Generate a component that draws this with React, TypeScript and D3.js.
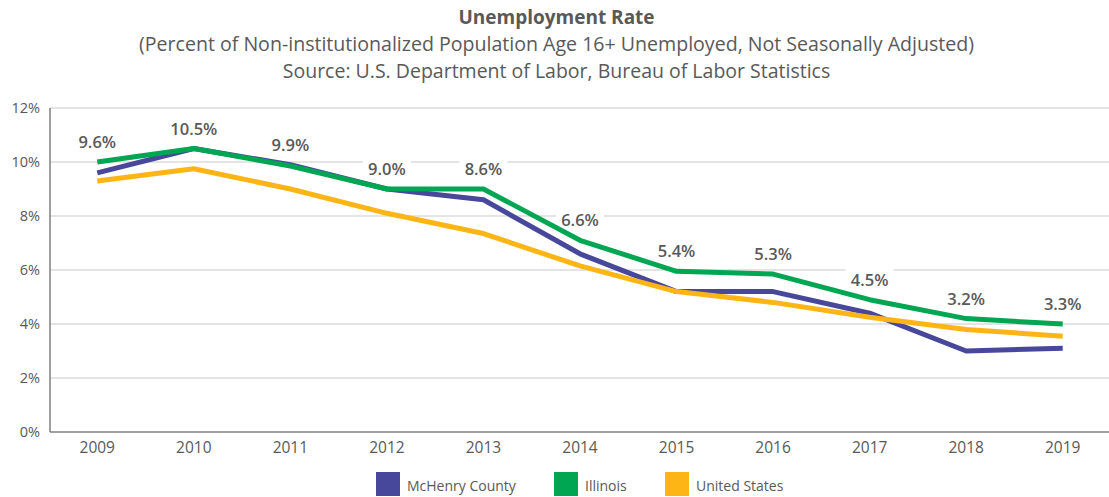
import React from 'react';
import * as d3 from 'd3';

const years = ['2009', '2010', '2011', '2012', '2013', '2014', '2015', '2016', '2017', '2018', '2019'];
const mchenry = [9.6, 10.5, 9.9, 9.0, 8.6, 6.6, 5.2, 5.2, 4.4, 3.0, 3.1];
const illinois = [10.0, 10.5, 9.85, 9.0, 9.0, 7.1, 5.95, 5.85, 4.9, 4.2, 4.0];
const unitedStates = [9.3, 9.75, 9.0, 8.1, 7.35, 6.15, 5.2, 4.8, 4.25, 3.8, 3.55];
const labels = ['9.6%', '10.5%', '9.9%', '9.0%', '8.6%', '6.6%', '5.4%', '5.3%', '4.5%', '3.2%', '3.3%'];
const yTicks = [0, 2, 4, 6, 8, 10, 12];

const series = [
  { name: 'McHenry County', values: mchenry, color: '#47479B' },
  { name: 'Illinois', values: illinois, color: '#00A651' },
  { name: 'United States', values: unitedStates, color: '#FDB515' },
];

const W = 1109;
const H = 497;
const font = "'Open Sans', 'Noto Sans', sans-serif";
const textColor = '#595959';

export default function App() {
  const left = 50;
  const right = 1111;
  const top = 108;
  const bottom = 432;

  const x = d3.scaleBand<string>().domain(years).range([left - 1, right]);
  const y = d3.scaleLinear().domain([0, 12]).range([bottom, top]);
  const cx = (yr: string) => (x(yr) ?? 0) + x.bandwidth() / 2;

  const line = d3
    .line<number>()
    .x((_, i) => cx(years[i]))
    .y((d) => y(d));

  const legendX = [376, 554, 665];

  return (
    <svg width={W} height={H} style={{ position: 'absolute', left: 0, top: 0, background: '#fff' }}>
      <text x={W / 2 + 2} y={24} textAnchor="middle" fontFamily={font} fontSize={19} fontWeight="bold" fill={textColor}>
        Unemployment Rate
      </text>
      <text x={W / 2 + 2} y={51} textAnchor="middle" fontFamily={font} fontSize={19.5} fill={textColor} textLength={835} lengthAdjust="spacingAndGlyphs">
        (Percent of Non-institutionalized Population Age 16+ Unemployed, Not Seasonally Adjusted)
      </text>
      <text x={W / 2 + 2} y={78} textAnchor="middle" fontFamily={font} fontSize={19.5} fill={textColor}>
        Source: U.S. Department of Labor, Bureau of Labor Statistics
      </text>

      {yTicks.map((t) => (
        <g key={t}>
          {t > 0 && <line x1={left} x2={W} y1={y(t)} y2={y(t)} stroke="#c9c9c9" strokeWidth={1} />}
          <text x={40} y={y(t) + 5} textAnchor="end" fontFamily={font} fontSize={14.5} fill={textColor}>
            {t}%
          </text>
        </g>
      ))}

      {labels.map((lab, i) => {
        const top3 = Math.max(mchenry[i], illinois[i], unitedStates[i]);
        const ly = y(top3) - 20;
        const w = lab.length * 10 + 8;
        return (
          <g key={i}>
            <rect x={cx(years[i]) - w / 2} y={ly - 11} width={w} height={22} fill="#fff" />
            <text x={cx(years[i])} y={ly + 6} textAnchor="middle" fontFamily={font} fontSize={16.5} fontWeight={600} fill={textColor}>
              {lab}
            </text>
          </g>
        );
      })}

      <line x1={left} x2={left} y1={top} y2={bottom} stroke="#7f7f7f" strokeWidth={1.5} />
      <line x1={left} x2={W} y1={bottom} y2={bottom} stroke="#7f7f7f" strokeWidth={1.5} />

      {years.map((yr) => (
        <text key={yr} x={cx(yr)} y={453} textAnchor="middle" fontFamily={font} fontSize={15.5} fill={textColor}>
          {yr}
        </text>
      ))}

      {series.map((s) => (
        <path key={s.name} d={line(s.values) ?? ''} fill="none" stroke={s.color} strokeWidth={5} strokeLinejoin="round" />
      ))}

      {series.map((s, i) => (
        <g key={s.name}>
          <rect x={legendX[i]} y={472} width={24} height={24} fill={s.color} />
          <text x={legendX[i] + 31} y={491} fontFamily={font} fontSize={14} fill={textColor}>
            {s.name}
          </text>
        </g>
      ))}
    </svg>
  );
}
